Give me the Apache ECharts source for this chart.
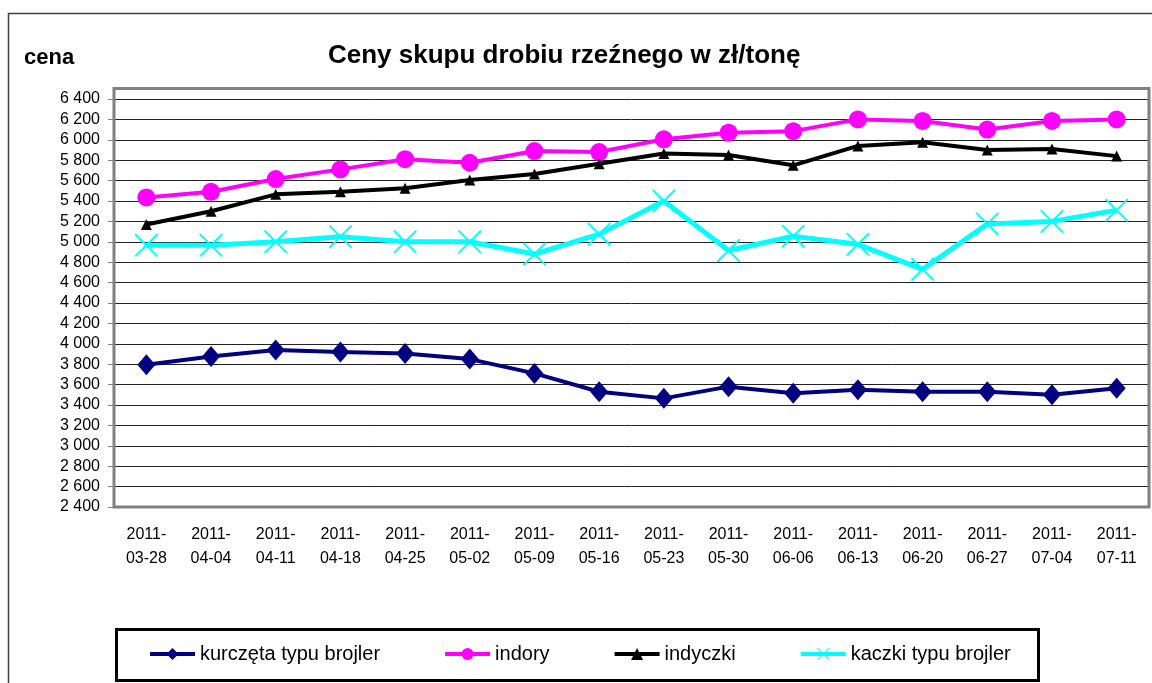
<!DOCTYPE html>
<html>
<head>
<meta charset="utf-8">
<script src="https://cdn.jsdelivr.net/npm/echarts@6/dist/echarts.min.js"></script>
<style>
  html, body { margin: 0; padding: 0; background: #fff; }
  #main { width: 1152px; height: 683px; }
</style>
</head>
<body>
<div id="main"></div>
<script>
// dane
const weeks = ['2011-03-28', '2011-04-04', '2011-04-11', '2011-04-18', '2011-04-25', '2011-05-02', '2011-05-09', '2011-05-16',
  '2011-05-23', '2011-05-30', '2011-06-06', '2011-06-13', '2011-06-20', '2011-06-27', '2011-07-04', '2011-07-11'];
const kurczeta = [3795, 3875, 3940, 3920, 3905, 3850, 3710, 3530, 3465, 3580, 3515, 3550, 3530, 3530, 3500, 3565];
const indory = [5435, 5490, 5615, 5710, 5810, 5775, 5890, 5880, 6005, 6070, 6085, 6200, 6185, 6100, 6185, 6200];
const indyczki = [5170, 5300, 5465, 5490, 5525, 5605, 5665, 5765, 5865, 5850, 5750, 5940, 5975, 5900, 5910, 5840];
const kaczki = [4965, 4965, 5000, 5050, 5000, 5000, 4880, 5075, 5400, 4915, 5055, 4975, 4730, 5175, 5200, 5310];
const yTicks = { min: 2400, max: 6400, step: 200 };

const font = '"Liberation Sans", Arial, sans-serif';
// cienki znak X
const xMark = 'path://M0,0L0.6,0L10,9.4L10,10L9.4,10L0,0.6ZM9.4,0L10,0L10,0.6L0.6,10L0,10L0,9.4Z';

function makeSeries(name, data, color, symbol, size, width) {
  return {
    name, type: 'line', data,
    symbol, symbolSize: size,
    color,
    lineStyle: { color, width },
    itemStyle: { color, borderWidth: 0 },
    emphasis: { disabled: true },
  };
}

const option = {
  backgroundColor: '#fff',
  animation: false,
  textStyle: { fontFamily: font },
  title: [
    { text: 'Ceny skupu drobiu rzeźnego w zł/tonę', left: 328, top: 43, padding: 0,
      textStyle: { fontSize: 26, fontWeight: 'bold', color: '#000', fontFamily: font } },
    { text: 'cena', left: 24, top: 47, padding: 0,
      textStyle: { fontSize: 22, fontWeight: 'bold', color: '#000', fontFamily: font } },
  ],
  grid: { left: 114, right: 3, top: 99, bottom: 176 },
  xAxis: {
    type: 'category',
    data: weeks,
    boundaryGap: true,
    axisLine: { lineStyle: { color: '#808080', width: 2 } },
    axisTick: { length: 6, lineStyle: { color: '#808080', width: 1 } },
    axisLabel: {
      interval: 0, margin: 16, fontSize: 16, lineHeight: 24, color: '#000', fontFamily: font,
      formatter: v => v.slice(0, 5) + '\n' + v.slice(5),
    },
    splitLine: { show: false },
  },
  yAxis: {
    type: 'value',
    min: yTicks.min, max: yTicks.max, interval: yTicks.step,
    axisLine: { show: true, lineStyle: { color: '#808080', width: 2 } },
    axisTick: { show: true, length: 6, lineStyle: { color: '#808080', width: 1 } },
    axisLabel: {
      margin: 14, fontSize: 16, color: '#000', fontFamily: font,
      formatter: v => String(v).replace(/\B(?=(\d{3})+(?!\d))/g, ' '),
    },
    splitLine: { lineStyle: { color: '#222', width: 1 } },
  },
  legend: {
    left: 148, top: 644, padding: 0,
    itemWidth: 45, itemHeight: 15, itemGap: 63,
    lineStyle: { width: 4 },
    textStyle: { fontSize: 20, color: '#000', fontFamily: font },
    data: ['kurczęta typu brojler', 'indory', 'indyczki', 'kaczki typu brojler'],
  },
  graphic: [
    // ramka całego wykresu
    { type: 'rect', silent: true, z: -10, shape: { x: 8.5, y: 13.5, width: 1200, height: 700 },
      style: { fill: 'none', stroke: '#404040', lineWidth: 1.5 } },
    // ramka obszaru wykresu
    { type: 'rect', silent: true, z: 100, shape: { x: 114, y: 88.5, width: 1035, height: 418.5 },
      style: { fill: 'none', stroke: '#808080', lineWidth: 3 } },
    // ramka legendy
    { type: 'rect', silent: true, z: -5, shape: { x: 116.5, y: 629.5, width: 922, height: 51 },
      style: { fill: '#fff', stroke: '#000', lineWidth: 3 } },
  ],
  series: [
    makeSeries('kurczęta typu brojler', kurczeta, '#000080', 'diamond', [18, 21], 4),
    makeSeries('indory', indory, '#FF00FF', 'circle', 18, 4),
    makeSeries('indyczki', indyczki, '#000000', 'triangle', 11, 4),
    makeSeries('kaczki typu brojler', kaczki, '#00FFFF', xMark, 23, 5),
  ],
};

const myChart = echarts.init(document.getElementById('main'), null, { renderer: 'canvas' });
myChart.setOption(option);
</script>
</body>
</html>
